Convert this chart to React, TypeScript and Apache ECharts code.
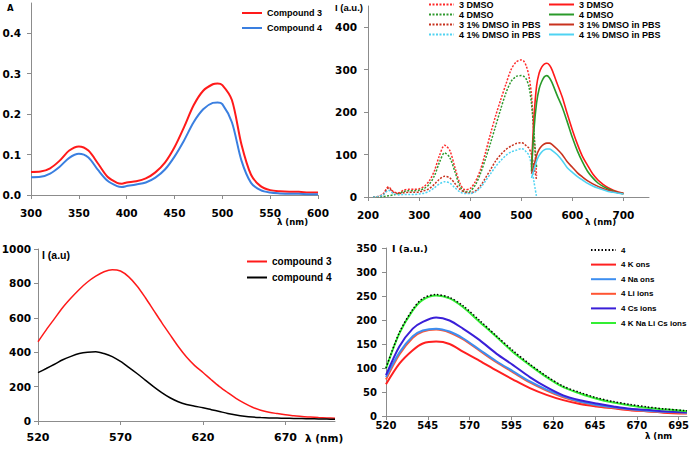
import React, { useEffect, useRef } from "react";
import * as echarts from "echarts";

// ---------- Panel A (absorbance) ----------
const absWl = [300,310,320,330,340,350,360,370,380,390,395,400,410,420,430,440,450,460,470,480,490,495,500,510,520,530,540,550,560,570,580,590,600];
const absCompound3 = [0.057,0.058,0.066,0.085,0.110,0.120,0.110,0.078,0.045,0.030,0.028,0.031,0.034,0.041,0.056,0.080,0.118,0.168,0.222,0.258,0.274,0.276,0.272,0.235,0.125,0.050,0.022,0.012,0.009,0.008,0.008,0.006,0.006];
const absCompound4 = [0.044,0.045,0.053,0.070,0.092,0.102,0.093,0.062,0.035,0.022,0.020,0.022,0.026,0.031,0.043,0.063,0.095,0.135,0.180,0.212,0.228,0.229,0.225,0.180,0.085,0.030,0.012,0.006,0.004,0.003,0.003,0.002,0.002];
const absXTicks = [300,350,400,450,500,550,600];
const absYTicks = [0,0.1,0.2,0.3,0.4];

// ---------- Panel B (excitation / emission) ----------
const exWl = [210,220,230,240,250,260,270,280,290,300,310,320,330,340,350,360,370,380,390,400,410,420,430,440,450,460,470,480,490,500,505,510,515,520,525,530];
const ex3Dmso = [0,1,8,24,12,10,16,18,18,19,25,38,62,98,122,110,70,32,17,20,36,64,105,150,192,230,266,300,318,323,320,308,285,240,140,50];
const ex4Dmso = [0,0,1,3,5,8,13,15,15,16,20,30,50,82,104,93,60,25,12,14,28,55,90,128,168,208,245,272,284,286,284,277,260,220,150,70];
const ex3Pbs = [0,1,6,21,11,8,10,11,11,12,15,20,30,42,49,45,32,18,11,10,14,26,45,65,85,100,112,120,126,128,126,120,115,100,70,40];
const ex4Pbs = [0,1,5,16,8,5,6,6,6,7,9,14,22,31,36,33,22,12,8,8,12,22,38,55,72,86,98,106,110,114,112,106,98,75,35,0];
const emWl = [520,525,530,535,540,545,550,555,560,570,580,590,600,610,620,630,640,650,660,670,680,690,700];
const em3Dmso = [70,190,262,292,306,313,315,311,300,268,236,196,158,124,95,74,54,40,30,22,16,12,9];
const em4Dmso = [60,160,222,255,272,283,286,281,270,240,212,177,140,108,82,60,45,33,25,19,14,10,8];
const em3Pbs = [55,75,98,112,120,125,127,127,124,113,100,83,70,57,47,38,31,25,20,16,13,10,8];
const em4Pbs = [45,65,85,98,106,111,113,113,110,100,86,69,58,48,40,32,26,21,17,13,11,9,7];
const bXTicks = [200,300,400,500,600,700];
const bYTicks = [0,100,200,300,400];

// ---------- Panel C (emission compounds) ----------
const cWl = [520,525,530,535,540,545,550,555,560,565,570,575,580,585,590,595,600,605,610,615,620,625,630,635,640,645,650,655,660,665,670,675,680,685,690,695,700];
const cCompound3 = [461,530,595,660,715,765,808,842,868,880,872,838,785,718,645,572,502,433,372,322,282,240,200,165,132,104,80,63,51,43,36,31,26,23,20,18,16];
const cCompound4 = [281,305,330,356,376,392,400,402,392,374,346,312,276,238,200,165,135,112,96,86,77,66,55,44,35,28,23,20,18,17,16,15,14,13,12,11,10];
const cXTicks = [520,570,620,670];
const cYTicks = [0,200,400,600,800,1000];

// ---------- Panel D (ions) ----------
const dWl = [520,528,536,542,550,558,566,576,586,596,606,616,626,636,646,656,666,676,686,700];
const d4 = [100,174,222,245,253,247,230,199,167,136,108,83,62,49,38,30,24,19,15,11];
const dK = [66,109,137,151,155,150,134,115,95,76,58,44,33,25,20,16,12,10,7,5];
const dNa = [81,132,166,178,182,176,162,138,114,93,72,55,41,30,23,18,14,11,9,7];
const dLi = [76,128,163,176,180,174,160,136,112,91,70,53,39,29,22,17,13,10,8,6];
const dCs = [85,145,182,196,205,199,182,158,130,106,81,60,43,33,26,20,15,13,10,8];
const dAll = [99,172,220,242,251,245,227,196,165,133,106,81,60,47,36,28,22,17,14,10];
const dXTicks = [520,545,570,595,620,645,670,695];
const dYTicks = [0,50,100,150,200,250,300,350];

const TICK_FONT = "DejaVu Sans";
const LEG_FONT = "Liberation Sans";

const zip = (xs: number[], ys: number[]) => xs.map((x, i) => [x, ys[i]]);

function xAxis(grid: number, min: number, max: number, ticks: number[], fontSize: number, margin: number) {
  return {
    type: "value", gridIndex: grid, min, max,
    axisLine: { show: true, lineStyle: { color: "#8c8c8c", width: 1 } },
    axisTick: { show: true, length: 4, customValues: ticks, lineStyle: { color: "#8c8c8c" } },
    axisLabel: { customValues: ticks, fontSize, fontWeight: "bold", fontFamily: TICK_FONT, color: "#000", margin, formatter: (v: number) => String(v) },
    splitLine: { show: false },
  };
}
function yAxis(grid: number, min: number, max: number, ticks: number[], fontSize: number, margin: number, fmt?: (v: number) => string) {
  return {
    type: "value", gridIndex: grid, min, max,
    axisLine: { show: true, lineStyle: { color: "#8c8c8c", width: 1 } },
    axisTick: { show: true, length: 4, customValues: ticks, lineStyle: { color: "#8c8c8c" } },
    axisLabel: { customValues: ticks, fontSize, fontWeight: "bold", fontFamily: TICK_FONT, color: "#000", margin, formatter: fmt || ((v: number) => String(v)) },
    splitLine: { show: false },
  };
}
function line(name: string, gi: number, xs: number[], ys: number[], color: string, width: number, type: any = "solid") {
  return {
    type: "line", name, xAxisIndex: gi, yAxisIndex: gi,
    data: zip(xs, ys), symbol: "none", showSymbol: false, smooth: 0.3,
    color, lineStyle: { color, width, type }, itemStyle: { color },
  };
}
function legend(left: number, top: number, data: string[], iw: number, ih: number, gap: number, fs: number, lh: number) {
  return {
    left, top, orient: "vertical", padding: 0, itemWidth: iw, itemHeight: ih, itemGap: gap,
    selectedMode: false, data,
    itemStyle: { opacity: 0, borderWidth: 0 },
    formatter: (n: string) => n.replace(" (em)", ""),
    textStyle: { fontSize: fs, fontWeight: "bold", fontFamily: LEG_FONT, color: "#000", lineHeight: lh },
  };
}
function txt(x: number, y: number, text: string, fs: number, font = TICK_FONT) {
  return { type: "text", x, y, style: { text, fontSize: fs, fontWeight: "bold", fontFamily: font, fill: "#000", textVerticalAlign: "middle" } };
}

export default function App() {
  const ref = useRef<HTMLDivElement>(null);
  useEffect(() => {
    document.body.style.margin = "0";
    const chart = echarts.init(ref.current!, null, { renderer: "svg" });
    const dot: number[] = [2, 1.5];
    const option: any = {
      animation: false,
      backgroundColor: "#fff",
      grid: [
        { left: 31, top: 3, width: 287, height: 192, outerBoundsMode: "none" },
        { left: 368, top: 6, width: 281, height: 191, outerBoundsMode: "none" },
        { left: 38, top: 249, width: 297, height: 172, outerBoundsMode: "none" },
        { left: 386, top: 248, width: 301, height: 168, outerBoundsMode: "none" },
      ],
      xAxis: [
        xAxis(0, 300, 600, absXTicks, 10.5, 12),
        xAxis(1, 200, 750, bXTicks, 10.5, 12),
        xAxis(2, 520, 700, cXTicks, 11, 11),
        xAxis(3, 520, 700, dXTicks, 10, 4),
      ],
      yAxis: [
        yAxis(0, 0, 0.475, absYTicks, 10.5, 10, (v: number) => v.toFixed(1)),
        yAxis(1, 0, 450, bYTicks, 10.5, 11),
        yAxis(2, 0, 1000, cYTicks, 10.5, 7),
        yAxis(3, 0, 350, dYTicks, 10, 9),
      ],
      legend: [
        legend(241, 8, ["Compound 3", "Compound 4"], 20, 10, 5, 9, 10),
        legend(428, 0, ["3 DMSO", "4 DMSO", "3 1% DMSO in PBS", "4 1% DMSO in PBS"], 25, 9, 1, 9, 9),
        legend(548, 0, ["3 DMSO (em)", "4 DMSO (em)", "3 1% DMSO in PBS (em)", "4 1% DMSO in PBS (em)"], 25, 9, 1, 9, 9),
        legend(246, 256, ["compound 3", "compound 4"], 20, 11, 5, 10, 11),
        legend(590, 245, ["4", "4 K ons", "4 Na ons", "4 Li ions", "4 Cs ions", "4 K Na Li Cs ions"], 25, 10, 4.6, 8, 10),
      ],
      series: [
        line("Compound 3", 0, absWl, absCompound3, "#ff1a1a", 2),
        line("Compound 4", 0, absWl, absCompound4, "#3a7fe0", 2),

        line("3 DMSO", 1, exWl, ex3Dmso, "#ff2a2a", 1.5, dot),
        line("4 DMSO", 1, exWl, ex4Dmso, "#2e9a2e", 1.5, dot),
        line("3 1% DMSO in PBS", 1, exWl, ex3Pbs, "#c8321e", 1.5, dot),
        line("4 1% DMSO in PBS", 1, exWl, ex4Pbs, "#4fd3f2", 1.5, dot),
        line("3 DMSO (em)", 1, emWl, em3Dmso, "#ff1a1a", 1.6),
        line("4 DMSO (em)", 1, emWl, em4Dmso, "#2a9a2a", 1.6),
        line("3 1% DMSO in PBS (em)", 1, emWl, em3Pbs, "#c8321e", 1.6),
        line("4 1% DMSO in PBS (em)", 1, emWl, em4Pbs, "#4fd3f2", 1.6),

        line("compound 3", 2, cWl, cCompound3, "#ff1a1a", 1.5),
        line("compound 4", 2, cWl, cCompound4, "#000000", 1.5),

        line("4 K ons", 3, dWl, dK, "#ff2020", 2),
        line("4 Li ions", 3, dWl, dLi, "#ff5533", 2),
        line("4 Na ons", 3, dWl, dNa, "#3d8ef0", 2),
        line("4 Cs ions", 3, dWl, dCs, "#3a1fd8", 2),
        line("4 K Na Li Cs ions", 3, dWl, dAll, "#33ee33", 2),
        line("4", 3, dWl, d4, "#000000", 1.5, [1.5, 2]),
      ],
      graphic: [
        txt(7, 8, "A", 8.5),
        txt(277, 222, "λ (nm)", 8.5),
        txt(585, 222, "λ (nm)", 8.5),
        txt(335, 7, "I (a.u.)", 9.5, LEG_FONT),
        txt(42, 255, "I (a.u)", 10.5, LEG_FONT),
        txt(305, 438, "λ (nm)", 10.5),
        txt(392, 248, "I (a.u.)", 9.5),
        txt(645, 436, "λ (nm", 8.5),
      ],
    };
    chart.setOption(option);
    return () => chart.dispose();
  }, []);
  return <div ref={ref} style={{ position: "fixed", left: 0, top: 0, width: 690, height: 450 }} />;
}
